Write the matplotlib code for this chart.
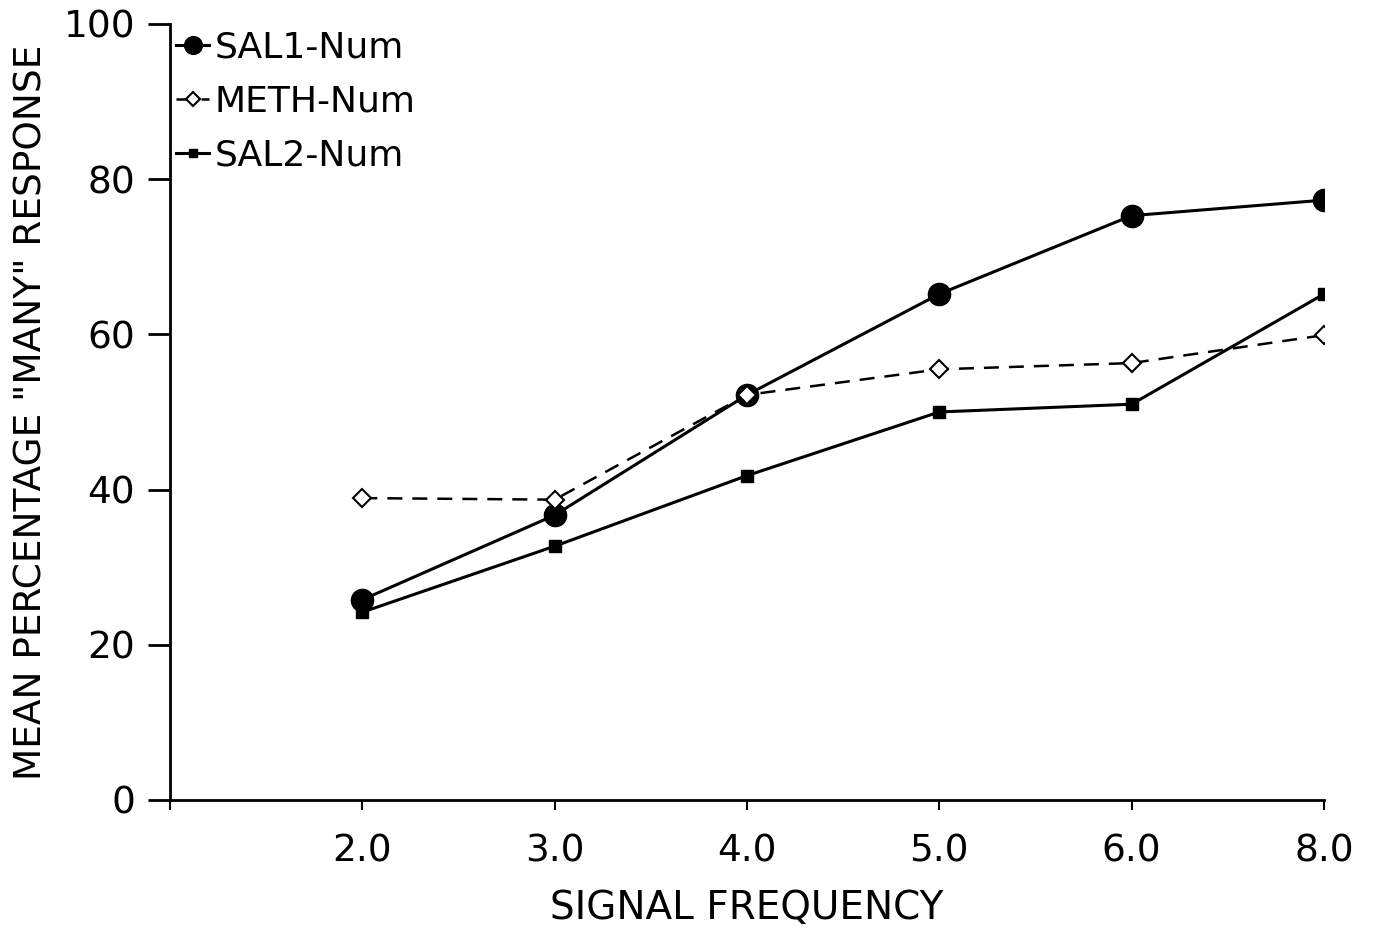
import matplotlib.pyplot as plt
import numpy as np

freq_labels = ["2.0", "3.0", "4.0", "5.0", "6.0", "8.0"]
sal1 = [25.8, 36.7, 52.2, 65.2, 75.3, 77.3]
meth = [38.9, 38.7, 52.2, 55.5, 56.3, 59.9]
sal2 = [24.2, 32.7, 41.8, 50.0, 51.0, 65.2]

plt.rcParams['font.family'] = 'DejaVu Sans'

fig = plt.figure(figsize=(13.73, 9.33), dpi=100)
ax = fig.add_axes([0.1238, 0.1426, 0.8405, 0.8317])

x = np.arange(1, len(freq_labels) + 1)

ax.plot(x, sal1, '-', color='black', lw=2.2, marker='o', ms=16, label='SAL1-Num')
ax.plot(x, meth, '--', color='black', lw=1.8, dashes=(6, 4), marker='D', ms=9,
        mfc='white', mec='black', mew=1.5, label='METH-Num')
ax.plot(x, sal2, '-', color='black', lw=2.2, marker='s', ms=8, label='SAL2-Num')

ax.set_xlim(0, 6)
ax.set_ylim(0, 100)
ax.set_xticks(np.arange(0, 7))
ax.set_xticklabels([""] + freq_labels)
ax.set_yticks(np.arange(0, 101, 20))

ax.spines['top'].set_visible(False)
ax.spines['right'].set_visible(False)
ax.spines['left'].set_linewidth(2)
ax.spines['bottom'].set_linewidth(2)
ax.tick_params(axis='y', direction='out', length=16, width=2, labelsize=27, pad=9)
ax.tick_params(axis='x', direction='out', length=7, width=1.5, labelsize=27, pad=17)

ax.set_xlabel("SIGNAL FREQUENCY", fontsize=28, labelpad=14)
ax.set_ylabel('MEAN PERCENTAGE "MANY" RESPONSE', fontsize=27, labelpad=10)

ax.legend(loc='upper left', bbox_to_anchor=(-0.007, 1.01), frameon=False,
          fontsize=26, handlelength=0.9, handletextpad=0.15, labelspacing=0.55,
          borderaxespad=0, markerscale=0.8)

plt.savefig("out.png", dpi=100)
